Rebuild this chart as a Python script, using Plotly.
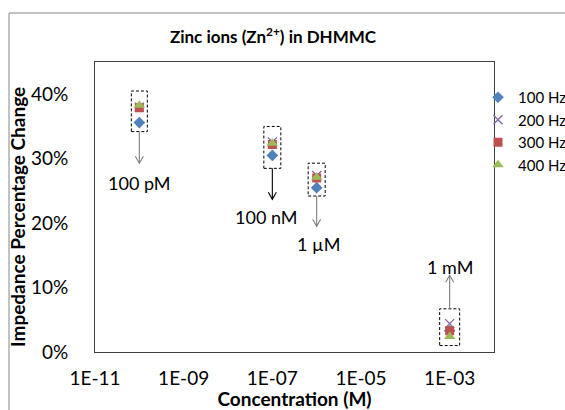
import math
import plotly.graph_objects as go

# ---------------- data ----------------
concentration = [1e-10, 1e-7, 1e-6, 1e-3]
series_names = ["100 Hz", "200 Hz", "300 Hz", "400 Hz"]
hz100 = [35.6, 30.5, 25.5, 3.3]
hz200 = [38.0, 32.6, 27.4, 4.4]
hz300 = [37.9, 32.2, 27.0, 3.3]
hz400 = [38.3, 32.4, 27.1, 2.4]

cluster_labels = ["100 pM", "100 nM", "1 \u00b5M", "1 mM"]
box_top = [40.5, 35.0, 29.3, 6.7]
box_bottom = [34.2, 28.5, 24.2, 1.0]
arrow_end = [29.3, 23.7, 19.5, 11.9]
label_y = [26.2, 21.0, 16.8, 13.2]

x_tick_vals = [1e-11, 1e-9, 1e-7, 1e-5, 1e-3]
x_tick_text = ["1E-11", "1E-09", "1E-07", "1E-05", "1E-03"]
y_tick_vals = [0, 10, 20, 30, 40]
y_tick_text = ["0%", "10%", "20%", "30%", "40%"]

# ---------------- styles ----------------
W, H = 565, 410
ML, MR, MT, MB = 95, 71, 62, 58
PW = W - ML - MR
PH = H - MT - MB
XLOG_MIN, XLOG_MAX = -11, -2
FONT = "Lato, Carlito, Calibri, 'Open Sans', sans-serif"

colors = ["#4F81BD", "#8064A2", "#C0504D", "#9BBB59"]
symbols = ["diamond", "x-thin-open", "square", "triangle-up"]
sizes = [9, 9, 9, 10]
arrow_colors = ["#7F7F7F", "#000000", "#7F7F7F", "#7F7F7F"]
label_dx_px = [0, -6, 2, 0]
box_half_px = [8, 8.5, 8.5, 10]

fig = go.Figure()
for name, vals, c, s, sz in zip(series_names, [hz100, hz200, hz300, hz400], colors, symbols, sizes):
    marker = dict(color=c, symbol=s, size=sz)
    if s == "x-thin-open":
        marker["line"] = dict(color=c, width=1.3)
    else:
        marker["line"] = dict(width=0)
    fig.add_trace(go.Scatter(x=concentration, y=vals, mode="markers", name=name, marker=marker))


def xdom(v):
    return (math.log10(v) - XLOG_MIN) / (XLOG_MAX - XLOG_MIN)


shapes = []
annotations = []
ypx = 45.0 / PH  # percent per pixel
for i, cx in enumerate(concentration):
    xd = xdom(cx)
    hw = box_half_px[i] / PW
    shapes.append(dict(type="rect", xref="x domain", yref="y", x0=xd - hw, x1=xd + hw,
                       y0=box_bottom[i], y1=box_top[i],
                       line=dict(color="#000000", width=1, dash="3px,2px"), fillcolor="rgba(0,0,0,0)"))
    start = box_bottom[i] if arrow_end[i] < box_bottom[i] else box_top[i]
    end = arrow_end[i]
    shapes.append(dict(type="line", xref="x domain", yref="y", x0=xd, x1=xd, y0=start, y1=end,
                       line=dict(color=arrow_colors[i], width=1.1)))
    sgn = 1 if end < start else -1
    dx = 4.0 / PW
    dy = 7.0 * ypx * sgn
    shapes.append(dict(type="path", xref="x domain", yref="y",
                       path=f"M {xd-dx},{end+dy} L {xd},{end} L {xd+dx},{end+dy}",
                       line=dict(color=arrow_colors[i], width=1.1)))
    annotations.append(dict(xref="x domain", yref="y", x=xd + label_dx_px[i] / PW, y=label_y[i],
                            text=cluster_labels[i], showarrow=False, xanchor="center", yanchor="middle",
                            font=dict(family=FONT, size=18, color="#000000")))

# y-axis title placed as rotated text
annotations.append(dict(xref="paper", yref="paper", x=(17 - ML) / PW, y=((H - MB) - 217) / PH,
                        text="<b>Impedance Percentage Change</b>", textangle=-90, showarrow=False,
                        xanchor="center", yanchor="middle",
                        font=dict(family=FONT, size=19, color="#000000")))

# outer chart border
shapes.append(dict(type="rect", xref="paper", yref="paper",
                   x0=(9 - ML) / PW, x1=(575 - ML) / PW,
                   y0=-(420 - (H - MB)) / PH, y1=((H - MB) - 13) / PH,
                   line=dict(color="#868686", width=1), fillcolor="rgba(0,0,0,0)", layer="below"))

fig.update_layout(
    width=W, height=H,
    margin=dict(l=ML, r=MR, t=MT, b=MB, autoexpand=False),
    paper_bgcolor="white", plot_bgcolor="white",
    font=dict(family=FONT, size=19, color="#000000"),
    title=dict(text="<b>Zinc ions (Zn<sup>2+</sup>) in DHMMC</b>", x=273 / W, xanchor="center",
               y=1 - 37 / H, yanchor="middle", font=dict(family=FONT, size=17, color="#000000")),
    xaxis=dict(type="log", range=[XLOG_MIN, XLOG_MAX], tickvals=x_tick_vals, ticktext=x_tick_text,
               showgrid=False, zeroline=False, showline=True, linecolor="#404040", linewidth=1,
               mirror=True, ticks="", ticklabelstandoff=9, tickfont=dict(size=19),
               title=dict(text="<b>Concentration (M)</b>", font=dict(family=FONT, size=19), standoff=0)),
    yaxis=dict(range=[0, 45], tickvals=y_tick_vals, ticktext=y_tick_text,
               showgrid=False, zeroline=False, showline=True, linecolor="#404040", linewidth=1,
               mirror=True, ticks="", ticklabelstandoff=22, tickfont=dict(size=19)),
    legend=dict(x=(478 - ML) / PW, xanchor="left", y=1 - (81 - MT) / PH, yanchor="top",
                bgcolor="rgba(0,0,0,0)", font=dict(family=FONT, size=15), tracegroupgap=0,
                itemwidth=30),
    shapes=shapes, annotations=annotations, showlegend=True,
)

fig.write_html("out.html", config={"displayModeBar": False},
               post_script="document.body.style.margin='0';document.body.style.padding='0';")
